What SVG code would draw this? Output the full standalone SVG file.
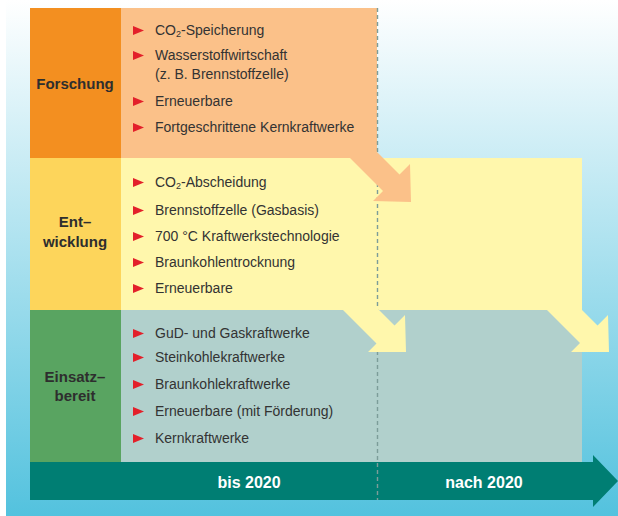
<svg xmlns="http://www.w3.org/2000/svg" width="618" height="516" viewBox="0 0 618 516">
  <defs>
    <linearGradient id="sky" x1="0" y1="0" x2="0" y2="516" gradientUnits="userSpaceOnUse">
      <stop offset="0" stop-color="#ffffff"/>
      <stop offset="1" stop-color="#53c2de"/>
    </linearGradient>
    <polygon id="bullet" points="0,0 11,4.5 0,9" fill="#e3202a"/>
  </defs>
  <style>
    .item { font-family: "Liberation Sans", Arial, sans-serif; font-size: 14px; fill: #333333; }
    .title { font-family: "Liberation Sans", Arial, sans-serif; font-size: 15px; font-weight: bold; fill: #2e2e2e; text-anchor: middle; }
    .time { font-family: "Liberation Sans", Arial, sans-serif; font-size: 16px; font-weight: bold; fill: #ffffff; text-anchor: middle; }
    .sub { font-size: 9px; }
    .divider { stroke: #7c9d99; stroke-width: 1.4; stroke-dasharray: 4 3; fill: none; }
  </style>

  <!-- background -->
  <rect x="6" y="0" width="612" height="516" fill="url(#sky)"/>

  <!-- row: Forschung -->
  <g id="forschung">
    <rect x="121" y="8" width="256" height="150" fill="#fbc189"/>
    <rect x="30" y="8" width="91" height="150" fill="#f38f20"/>
    <text class="title" x="75" y="89">Forschung</text>
  </g>

  <!-- row: Entwicklung -->
  <g id="entwicklung">
    <rect x="121" y="158" width="461" height="152" fill="#fff7ac"/>
    <rect x="30" y="158" width="91" height="152" fill="#fdd55b"/>
    <text class="title" x="75" y="227">Ent–</text>
    <text class="title" x="75" y="246.5">wicklung</text>
  </g>

  <!-- row: Einsatzbereit -->
  <g id="einsatzbereit">
    <rect x="121" y="310" width="461" height="152" fill="#b1d0cc"/>
    <rect x="30" y="310" width="91" height="152" fill="#59a461"/>
    <text class="title" x="75" y="382">Einsatz–</text>
    <text class="title" x="75" y="401">bereit</text>
  </g>

  <!-- time axis -->
  <g id="zeitachse">
    <polygon points="30,462 593,462 593,455 618,481 593,507 593,500 30,500" fill="#007e73"/>
    <text class="time" x="249" y="488">bis 2020</text>
    <text class="time" x="484" y="488">nach 2020</text>
  </g>

  <!-- 2020 divider -->
  <line class="divider" x1="377.5" y1="8" x2="377.5" y2="500"/>

  <!-- transition arrows -->
  <g id="connectors">
    <polygon points="332,140 365,140 399.5,174.5 410,164 411,202 373,201 383,191" fill="#fbc189"/>
    <polygon points="333,300 369,300 394.5,325.5 405,315 406,352 368,352 376.5,343.5" fill="#fff7ac"/>
    <polygon points="537,300 572,300 597.5,325.5 608,315 609,352 571,352 580,343" fill="#fff7ac"/>
  </g>

  <!-- items: Forschung -->
  <g id="items-forschung">
    <use href="#bullet" x="133" y="26"/>
    <text class="item" x="155" y="35">CO<tspan class="sub" dy="2">2</tspan><tspan dy="-2">-Speicherung</tspan></text>
    <use href="#bullet" x="133" y="51"/>
    <text class="item" x="155" y="60">Wasserstoffwirtschaft</text>
    <text class="item" x="155" y="79">(z. B. Brennstoffzelle)</text>
    <use href="#bullet" x="133" y="97"/>
    <text class="item" x="155" y="106">Erneuerbare</text>
    <use href="#bullet" x="133" y="123"/>
    <text class="item" x="155" y="132">Fortgeschrittene Kernkraftwerke</text>
  </g>

  <!-- items: Entwicklung -->
  <g id="items-entwicklung">
    <use href="#bullet" x="133" y="178"/>
    <text class="item" x="155" y="187">CO<tspan class="sub" dy="2">2</tspan><tspan dy="-2">-Abscheidung</tspan></text>
    <use href="#bullet" x="133" y="206"/>
    <text class="item" x="155" y="215">Brennstoffzelle (Gasbasis)</text>
    <use href="#bullet" x="133" y="232"/>
    <text class="item" x="155" y="241">700 °C Kraftwerkstechnologie</text>
    <use href="#bullet" x="133" y="258"/>
    <text class="item" x="155" y="267">Braunkohlentrocknung</text>
    <use href="#bullet" x="133" y="284"/>
    <text class="item" x="155" y="293">Erneuerbare</text>
  </g>

  <!-- items: Einsatzbereit -->
  <g id="items-einsatzbereit">
    <use href="#bullet" x="133" y="329"/>
    <text class="item" x="155" y="338">GuD- und Gaskraftwerke</text>
    <use href="#bullet" x="133" y="353"/>
    <text class="item" x="155" y="362">Steinkohlekraftwerke</text>
    <use href="#bullet" x="133" y="380"/>
    <text class="item" x="155" y="389">Braunkohlekraftwerke</text>
    <use href="#bullet" x="133" y="407"/>
    <text class="item" x="155" y="416">Erneuerbare (mit Förderung)</text>
    <use href="#bullet" x="133" y="434"/>
    <text class="item" x="155" y="443">Kernkraftwerke</text>
  </g>
</svg>
